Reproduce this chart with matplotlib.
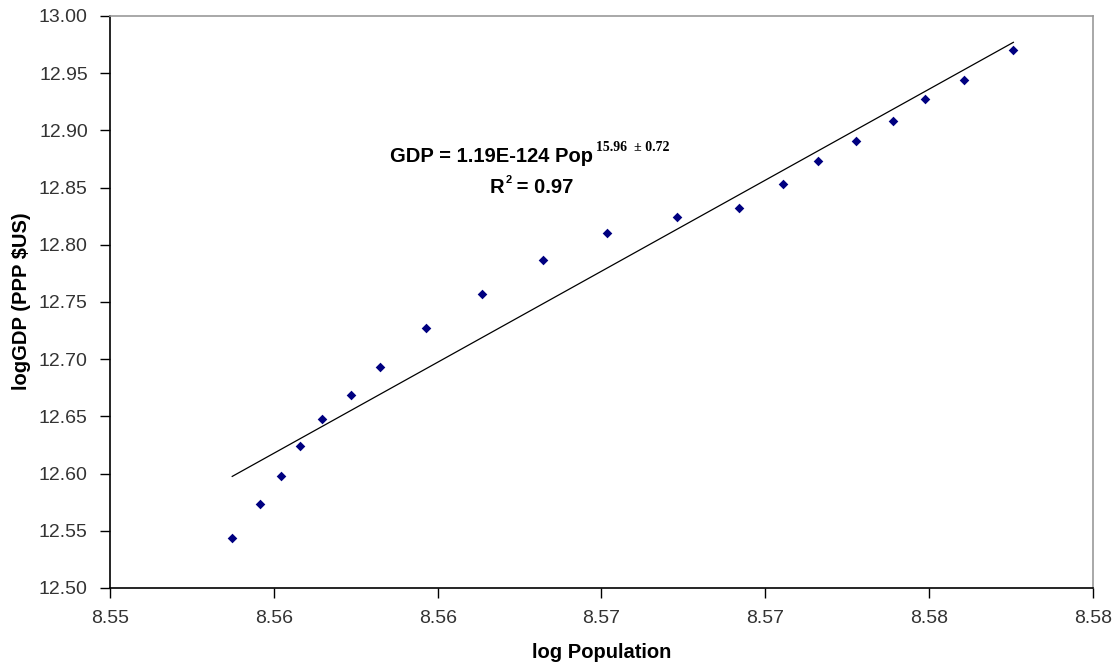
import numpy as np
import matplotlib
matplotlib.use("Agg")
import matplotlib.pyplot as plt
from matplotlib.ticker import FixedLocator, FixedFormatter

log_pop = [8.55373, 8.55459, 8.55521, 8.55579, 8.55647, 8.55736, 8.55825,
           8.55964, 8.56135, 8.56322, 8.56517, 8.56730, 8.56920, 8.57054,
           8.57162, 8.57278, 8.57390, 8.57487, 8.57606, 8.57757]
log_gdp = [12.5437, 12.5737, 12.5979, 12.6244, 12.6477, 12.6684, 12.6929,
           12.7273, 12.7570, 12.7867, 12.8100, 12.8243, 12.8322, 12.8531,
           12.8730, 12.8907, 12.9085, 12.9272, 12.9438, 12.9703]

x_ticks = [8.550, 8.555, 8.560, 8.565, 8.570, 8.575, 8.580]
x_tick_labels = ["8.55", "8.56", "8.56", "8.57", "8.57", "8.58", "8.58"]
y_ticks = [12.50, 12.55, 12.60, 12.65, 12.70, 12.75, 12.80, 12.85, 12.90, 12.95, 13.00]
y_tick_labels = ["%.2f" % v for v in y_ticks]

eq_main = "GDP = 1.19E-124 Pop"
eq_sup = "15.96  \u00b1 0.72"
r2_main = "R"
r2_sup = "2"
r2_rest = " = 0.97"

plt.rcParams['font.family'] = ['Liberation Sans', 'DejaVu Sans']

W, H = 1120, 667
fig = plt.figure(figsize=(W/100, H/100), dpi=100)
ax = fig.add_axes([110/W, 1-588/H, (1093-110)/W, (588-16)/H])

ax.scatter(log_pop, log_gdp, marker='D', s=24, color='#000080', zorder=3, linewidths=0)

xs = np.array(log_pop)
ys = np.array(log_gdp)
slope, intercept = np.polyfit(xs, ys, 1)
xl = np.array([xs.min(), xs.max()])
ax.plot(xl, slope*xl + intercept, color='black', lw=0.9, zorder=2)

ax.set_xlim(8.550, 8.580)
ax.set_ylim(12.50, 13.00)
ax.xaxis.set_major_locator(FixedLocator(x_ticks))
ax.xaxis.set_major_formatter(FixedFormatter(x_tick_labels))
ax.yaxis.set_major_locator(FixedLocator(y_ticks))
ax.yaxis.set_major_formatter(FixedFormatter(y_tick_labels))

ax.tick_params(axis='both', direction='out', length=7, width=1, labelsize=14,
               labelcolor='#333333', color='black')
ax.tick_params(axis='x', pad=9)
ax.tick_params(axis='y', pad=9)

for side in ['left', 'bottom']:
    ax.spines[side].set_color('black')
    ax.spines[side].set_linewidth(1.2)
for side in ['top', 'right']:
    ax.spines[side].set_color('#999999')
    ax.spines[side].set_linewidth(1.2)

ax.set_xlabel("log Population", fontsize=14.5, fontweight='bold')
ax.set_ylabel("logGDP (PPP $US)", fontsize=14.5, fontweight='bold')
ax.xaxis.label.set_verticalalignment('baseline')
ax.xaxis.set_label_coords((602-110)/983, -(658-588)/572)
ax.yaxis.label.set_verticalalignment('baseline')
ax.yaxis.set_label_coords(-(110-27)/983, (588-301)/572)

# equation annotation (pixel coordinates from top-left)
def px(x, y):
    return x/W, 1-y/H

r = fig.canvas.get_renderer()
t1 = fig.text(*px(390, 162), eq_main, fontsize=14.5, fontweight='bold',
              ha='left', va='baseline', color='black')
bb = t1.get_window_extent(r)
fig.text((bb.x1 + 3)/W, 1-151/H, eq_sup, fontsize=10, fontweight='bold',
         family=['Liberation Serif', 'DejaVu Serif'], ha='left', va='baseline', color='black')

t2 = fig.text(*px(490, 193), r2_main, fontsize=14.5, fontweight='bold',
              ha='left', va='baseline', color='black')
bb2 = t2.get_window_extent(r)
t3 = fig.text((bb2.x1 + 0.5)/W, 1-183/H, r2_sup, fontsize=8, fontweight='bold',
              ha='left', va='baseline', color='black')
bb3 = t3.get_window_extent(r)
fig.text(bb3.x1/W, 1-193/H, r2_rest, fontsize=14.5, fontweight='bold',
         ha='left', va='baseline', color='black')

fig.savefig("out.png", dpi=100)
